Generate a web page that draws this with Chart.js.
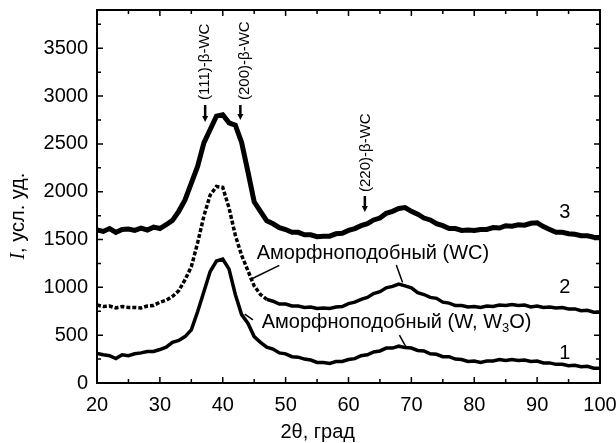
<!DOCTYPE html>
<html>
<head>
<meta charset="utf-8">
<script src="https://cdn.jsdelivr.net/npm/chart.js@4.4.0/dist/chart.umd.min.js"></script>
<style>
  html, body { margin: 0; padding: 0; background: #fff; }
  #wrap { width: 616px; height: 443px; }
</style>
</head>
<body>
<div id="wrap"><canvas id="canvas"></canvas></div>
<script>
// 2θ, град (шаг 1°)
const angles = [20,21,22,23,24,25,26,27,28,29,30,31,32,33,34,35,36,37,38,39,40,41,42,43,44,45,46,47,48,49,50,51,52,53,54,55,56,57,58,59,60,61,62,63,64,65,66,67,68,69,70,71,72,73,74,75,76,77,78,79,80,81,82,83,84,85,86,87,88,89,90,91,92,93,94,95,96,97,98,99,100];

// кривая 3
const curve3 = [1600,1585,1615,1575,1605,1610,1595,1620,1600,1630,1615,1655,1700,1795,1915,2090,2265,2510,2650,2790,2805,2720,2695,2515,2210,1895,1795,1695,1665,1625,1605,1575,1575,1550,1550,1530,1535,1535,1560,1565,1595,1615,1645,1665,1705,1725,1775,1795,1825,1835,1795,1765,1725,1705,1665,1645,1615,1615,1595,1600,1595,1605,1605,1625,1620,1645,1640,1655,1650,1670,1675,1635,1605,1575,1575,1560,1555,1540,1540,1525,1520];

// кривая 2
const curve2 = [815,800,805,785,800,790,790,785,805,810,845,865,905,965,1080,1215,1465,1745,1965,2055,2045,1830,1545,1335,1175,1015,925,875,855,825,825,805,805,790,795,780,785,780,795,800,830,845,875,895,935,955,995,1010,1035,1015,995,945,925,895,885,845,835,810,810,795,800,790,805,800,815,810,820,810,815,795,805,790,795,785,790,775,775,755,760,740,740];

// кривая 1
const curve1 = [310,295,285,255,295,285,305,315,330,330,350,375,425,445,485,555,745,955,1165,1275,1295,1190,925,715,625,485,425,375,355,315,305,275,270,250,240,215,215,205,225,225,245,255,285,295,325,335,365,365,385,370,365,340,335,305,300,275,275,250,245,225,230,215,230,230,245,235,245,235,240,225,230,210,210,195,195,180,185,170,175,155,155];

const seriesNames = ['1', '2', '3'];
const xTicks = [20, 30, 40, 50, 60, 70, 80, 90, 100];
const yTicks = [0, 500, 1000, 1500, 2000, 2500, 3000, 3500];

const toPoints = arr => arr.map((v, i) => ({ x: angles[i], y: v }));
const SANS = '"Liberation Sans", Arial, sans-serif';

const decor = {
    id: 'decor',
    afterDatasetsDraw(chart) {
        const { ctx, chartArea: a, scales: { x, y } } = chart;
        const X = v => x.getPixelForValue(v);
        const Y = v => y.getPixelForValue(v);
        ctx.save();
        ctx.strokeStyle = '#000';
        ctx.fillStyle = '#000';

        // рамка
        ctx.lineWidth = 2;
        ctx.strokeRect(a.left, a.top, a.right - a.left, a.bottom - a.top);

        // засечки внутрь по всем сторонам
        ctx.lineWidth = 1.5;
        ctx.beginPath();
        for (let v = 20; v <= 100; v += 5) {
            const px = X(v), len = v % 10 === 0 ? 6 : 4;
            ctx.moveTo(px, a.bottom); ctx.lineTo(px, a.bottom - len);
            ctx.moveTo(px, a.top); ctx.lineTo(px, a.top + len);
        }
        for (let v = 0; v <= 3900; v += 250) {
            const py = Y(v), len = v % 500 === 0 ? 6 : 4;
            ctx.moveTo(a.left, py); ctx.lineTo(a.left + len, py);
            ctx.moveTo(a.right, py); ctx.lineTo(a.right - len, py);
        }
        ctx.stroke();

        // подписи рефлексов (повёрнутые)
        ctx.font = '15px ' + SANS;
        ctx.textBaseline = 'middle';
        ctx.textAlign = 'left';
        const peakLabel = (text, px, pyBottom) => {
            ctx.save();
            ctx.translate(px, pyBottom);
            ctx.rotate(-Math.PI / 2);
            ctx.fillText(text, 0, 0);
            ctx.restore();
        };
        peakLabel('(111)-\u03B2-WC', X(37.2), 100);
        peakLabel('(200)-\u03B2-WC', X(43.5), 100);
        peakLabel('(220)-\u03B2-WC', X(62.8), 192);

        // стрелки
        const arrow = (px, y0, y1) => {
            ctx.lineWidth = 2.5;
            ctx.beginPath();
            ctx.moveTo(px, y0); ctx.lineTo(px, y1 - 5);
            ctx.stroke();
            ctx.beginPath();
            ctx.moveTo(px - 3, y1 - 6); ctx.lineTo(px + 3, y1 - 6); ctx.lineTo(px, y1);
            ctx.closePath();
            ctx.fill();
        };
        arrow(X(37.2), 105, 122);
        arrow(X(42.8), 105, 120);
        arrow(X(62.6), 196, 212);

        // номера кривых
        ctx.font = '20px ' + SANS;
        ctx.textAlign = 'center';
        ctx.fillText('3', X(94.4), Y(1787));
        ctx.fillText('2', X(94.4), Y(1003));
        ctx.fillText('1', X(94.4), Y(313));

        // подписи фаз
        ctx.textAlign = 'left';
        ctx.fillText('Аморфноподобный (WC)', X(45.4), Y(1358));
        const t1 = 'Аморфноподобный (W, W';
        const x1 = X(46.2), y1 = Y(630);
        ctx.fillText(t1, x1, y1);
        let w = ctx.measureText(t1).width;
        ctx.font = '13px ' + SANS;
        ctx.fillText('3', x1 + w, y1 + 6);
        w += ctx.measureText('3').width;
        ctx.font = '20px ' + SANS;
        ctx.fillText('O)', x1 + w, y1);

        // выноски
        ctx.lineWidth = 1.5;
        ctx.beginPath();
        ctx.moveTo(X(44.3), Y(1080)); ctx.lineTo(X(49), Y(1230));
        ctx.moveTo(X(67.6), Y(1235)); ctx.lineTo(X(68.6), Y(1050));
        ctx.moveTo(X(43.5), Y(720)); ctx.lineTo(X(44.8), Y(660));
        ctx.moveTo(X(68.1), Y(500)); ctx.lineTo(X(69.2), Y(370));
        ctx.stroke();

        // подписи осей
        ctx.textBaseline = 'alphabetic';
        ctx.textAlign = 'center';
        ctx.font = '20px ' + SANS;
        ctx.fillText('2\u03B8, град', X(55.1), 438);

        ctx.save();
        ctx.translate(24, Y(1745));
        ctx.rotate(-Math.PI / 2);
        ctx.textAlign = 'left';
        ctx.font = 'italic 20px "Liberation Serif", "Times New Roman", serif';
        const iw = ctx.measureText('I').width;
        ctx.font = '20px ' + SANS;
        const rest = ', усл. уд.';
        const total = iw + ctx.measureText(rest).width;
        ctx.font = 'italic 20px "Liberation Serif", "Times New Roman", serif';
        ctx.fillText('I', -total / 2, 0);
        ctx.font = '20px ' + SANS;
        ctx.fillText(rest, -total / 2 + iw, 0);
        ctx.restore();

        ctx.restore();
    }
};

const canvasCTX = document.getElementById('canvas').getContext('2d');

const grafico = new Chart(canvasCTX, {
    type: 'line',
    data: {
        datasets: [
            {
                label: seriesNames[2],
                data: toPoints(curve3),
                borderColor: '#000',
                borderWidth: 5,
                pointRadius: 0,
                tension: 0
            },
            {
                label: seriesNames[1],
                data: toPoints(curve2),
                borderColor: '#000',
                borderWidth: 3.5,
                pointRadius: 0,
                tension: 0,
                segment: {
                    borderDash: c => c.p1.parsed.x <= 47 ? [4, 2] : undefined
                }
            },
            {
                label: seriesNames[0],
                data: toPoints(curve1),
                borderColor: '#000',
                borderWidth: 3.5,
                pointRadius: 0,
                tension: 0
            }
        ]
    },
    options: {
        responsive: true,
        maintainAspectRatio: false,
        animation: false,
        events: [],
        layout: {
            padding: { top: 10, right: 16, left: 0, bottom: 0 }
        },
        plugins: {
            legend: { display: false },
            title: { display: false },
            tooltip: { enabled: false }
        },
        scales: {
            x: {
                type: 'linear',
                min: 20,
                max: 100,
                afterFit: s => { s.height = 60; s.paddingLeft = 0; s.paddingRight = 0; },
                afterBuildTicks: s => { s.ticks = xTicks.map(v => ({ value: v })); },
                grid: { display: false, drawTicks: false },
                border: { display: false },
                ticks: {
                    color: '#000',
                    padding: 10,
                    maxRotation: 0,
                    callback: v => String(v),
                    font: { family: SANS, size: 20 }
                }
            },
            y: {
                type: 'linear',
                min: 0,
                max: 3900,
                afterFit: s => { s.width = 97; s.paddingTop = 0; s.paddingBottom = 0; },
                afterBuildTicks: s => { s.ticks = yTicks.map(v => ({ value: v })); },
                grid: { display: false, drawTicks: false },
                border: { display: false },
                ticks: {
                    color: '#000',
                    padding: 9,
                    callback: v => String(v),
                    font: { family: SANS, size: 20 }
                }
            }
        }
    },
    plugins: [decor]
});
</script>
</body>
</html>
